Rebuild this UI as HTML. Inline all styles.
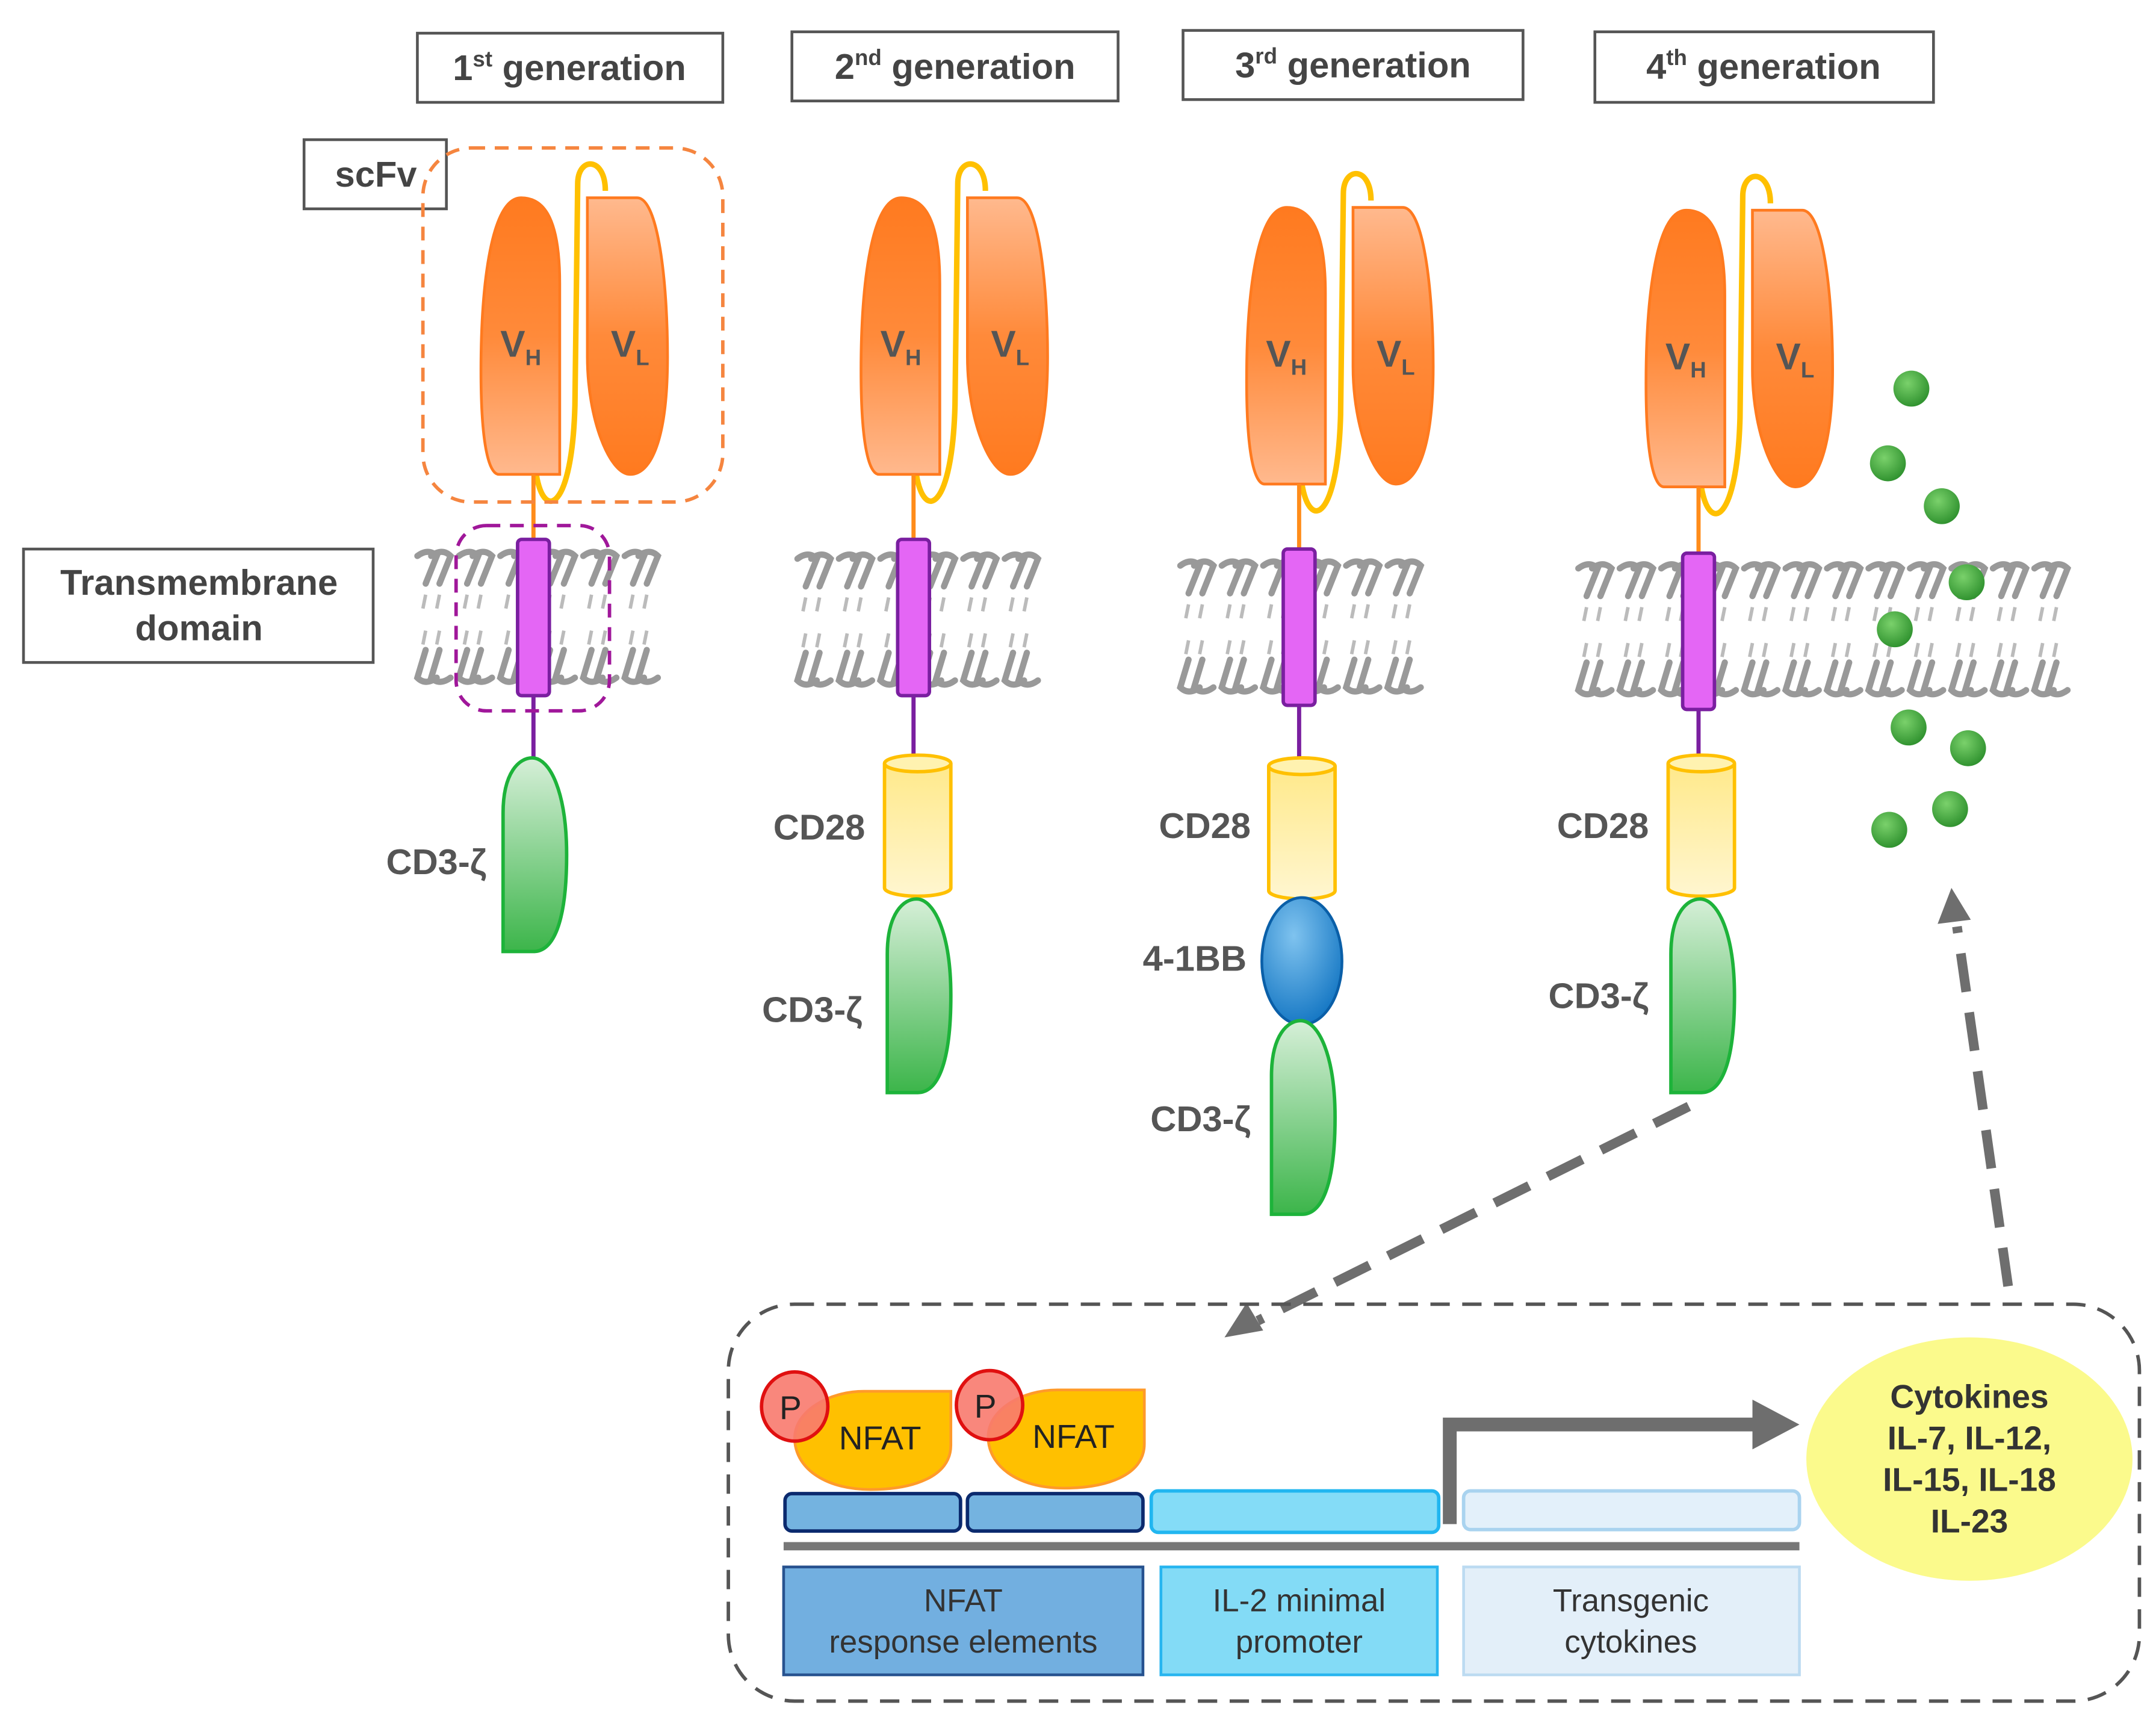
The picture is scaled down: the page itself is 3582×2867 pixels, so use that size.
<!DOCTYPE html>
<html><head><meta charset="utf-8"><style>
html,body{margin:0;padding:0;background:#fff;}
svg{display:block;}
text{font-family:"Liberation Sans",sans-serif;}
</style></head><body>
<svg width="3582" height="2867" viewBox="0 0 1560 1248" preserveAspectRatio="none" xmlns="http://www.w3.org/2000/svg">
<defs>
<linearGradient id="gvh" x1="0" y1="0" x2="0" y2="1"><stop offset="0" stop-color="#ff7a1f"/><stop offset="0.5" stop-color="#ff8a3a"/><stop offset="1" stop-color="#ffb98e"/></linearGradient>
<linearGradient id="gvl" x1="0" y1="0" x2="0" y2="1"><stop offset="0" stop-color="#ffb98e"/><stop offset="0.5" stop-color="#ff8a3a"/><stop offset="1" stop-color="#ff7a1f"/></linearGradient>
<linearGradient id="ggr" x1="0" y1="0" x2="0" y2="1"><stop offset="0" stop-color="#d6efd8"/><stop offset="1" stop-color="#3cb54a"/></linearGradient>
<linearGradient id="gy" x1="0" y1="0" x2="0" y2="1"><stop offset="0" stop-color="#ffe98a"/><stop offset="1" stop-color="#fff6d0"/></linearGradient>
<radialGradient id="gb" cx="0.4" cy="0.3" r="0.8"><stop offset="0" stop-color="#7fc3ef"/><stop offset="1" stop-color="#0a6fbf"/></radialGradient>
<radialGradient id="gdot" cx="0.4" cy="0.35" r="0.7"><stop offset="0" stop-color="#7ad16b"/><stop offset="1" stop-color="#2c8f2c"/></radialGradient>
<g id="lip">
  <path d="M2,4 Q10,-2 16,4 L8,24" fill="none" stroke="#999" stroke-width="4.5" stroke-linecap="round"/>
  <path d="M12,4 Q20,-2 26,4 L18,24" fill="none" stroke="#999" stroke-width="4.5" stroke-linecap="round"/>
  <path d="M8,32 L6,42 M18,32 L16,42 M8,58 L6,68 M18,58 L16,68" stroke="#bbb" stroke-width="2.5"/>
  <path d="M8,72 L2,92 Q8,98 16,92 M18,72 L12,92 Q18,98 26,92" fill="none" stroke="#999" stroke-width="4.5" stroke-linecap="round"/>
</g>
<g id="scfv">
  <path d="M2,200 C8,235 28,225 30,150 L32,-10 C32,-30 52,-30 52,-5" fill="none" stroke="#ffc000" stroke-width="4"/>
  <path d="M19,200 L19,62 C19,10 5,0 -9,0 C-30,0 -38,60 -38,125 C-38,180 -32,200 -25,200 Z" fill="url(#gvh)" stroke="#ff7a1f" stroke-width="2"/>
  <path d="M39,0 L75,0 C90,0 97,60 97,115 C97,175 85,200 70,200 C55,200 39,160 39,115 Z" fill="url(#gvl)" stroke="#ff7a1f" stroke-width="2"/>
  <line x1="0" y1="200" x2="0" y2="248" stroke="#ff8c1a" stroke-width="3"/>
  <text x="-24" y="115" font-size="27" font-weight="bold" fill="#555">V<tspan font-size="16" dy="6">H</tspan></text>
  <text x="56" y="115" font-size="27" font-weight="bold" fill="#555">V<tspan font-size="16" dy="6">L</tspan></text>
</g>
<g id="tm">
  <rect x="-11.5" y="0" width="23" height="113" rx="3" fill="#e466f5" stroke="#7a1fa0" stroke-width="2.5"/>
  <line x1="0" y1="113" x2="0" y2="158" stroke="#7a1fa0" stroke-width="3"/>
</g>
<g id="cd3">
  <path d="M-22,140 L-22,40 C-22,10 -10,0 -1,0 C12,0 24,25 24,70 C24,120 14,140 0,140 Z" fill="url(#ggr)" stroke="#1db33a" stroke-width="2.5"/>
</g>
<g id="cd28">
  <path d="M-24,6 L-24,96 A24,6 0 0 0 24,96 L24,6" fill="url(#gy)" stroke="#ffc000" stroke-width="2.5"/>
  <ellipse cx="0" cy="6" rx="24" ry="6" fill="#fff2b0" stroke="#ffc000" stroke-width="2.5"/>
</g>
</defs>

<g fill="#fff" stroke="#555" stroke-width="2">
<rect x="302" y="24" width="221" height="50"/>
<rect x="573" y="23" width="236" height="50"/>
<rect x="856" y="22" width="246" height="50"/>
<rect x="1154" y="23" width="245" height="51"/>
<rect x="220" y="101" width="103" height="50"/>
<rect x="17" y="397" width="253" height="82"/>
</g>
<g font-size="26" font-weight="bold" fill="#444" text-anchor="middle">
<text x="412" y="58">1<tspan font-size="16" dy="-10">st</tspan><tspan dy="10"> generation</tspan></text>
<text x="691" y="57">2<tspan font-size="16" dy="-10">nd</tspan><tspan dy="10"> generation</tspan></text>
<text x="979" y="56">3<tspan font-size="16" dy="-10">rd</tspan><tspan dy="10"> generation</tspan></text>
<text x="1276" y="57">4<tspan font-size="16" dy="-10">th</tspan><tspan dy="10"> generation</tspan></text>
<text x="272" y="135">scFv</text>
<text x="144" y="430">Transmembrane</text>
<text x="144" y="463">domain</text>
</g>

<g>
<use href="#lip" x="300" y="398"/><use href="#lip" x="330" y="398"/><use href="#lip" x="360" y="398"/><use href="#lip" x="390" y="398"/><use href="#lip" x="420" y="398"/><use href="#lip" x="450" y="398"/>
<use href="#lip" x="575" y="400"/><use href="#lip" x="605" y="400"/><use href="#lip" x="635" y="400"/><use href="#lip" x="665" y="400"/><use href="#lip" x="695" y="400"/><use href="#lip" x="725" y="400"/>
<use href="#lip" x="852" y="405"/><use href="#lip" x="882" y="405"/><use href="#lip" x="912" y="405"/><use href="#lip" x="942" y="405"/><use href="#lip" x="972" y="405"/><use href="#lip" x="1002" y="405"/>
<use href="#lip" x="1140" y="407"/><use href="#lip" x="1170" y="407"/><use href="#lip" x="1200" y="407"/><use href="#lip" x="1230" y="407"/><use href="#lip" x="1260" y="407"/><use href="#lip" x="1290" y="407"/><use href="#lip" x="1320" y="407"/><use href="#lip" x="1350" y="407"/><use href="#lip" x="1380" y="407"/><use href="#lip" x="1410" y="407"/><use href="#lip" x="1440" y="407"/><use href="#lip" x="1470" y="407"/>
</g>

<use href="#scfv" x="386" y="143"/>
<use href="#tm" x="386" y="390"/>
<use href="#cd3" x="386" y="548"/>
<rect x="306" y="107" width="217" height="256" rx="35" fill="none" stroke="#f5853f" stroke-width="2.5" stroke-dasharray="10 7"/>
<rect x="330" y="380" width="111" height="134" rx="22" fill="none" stroke="#a0179a" stroke-width="2.5" stroke-dasharray="10 7"/>

<use href="#scfv" x="661" y="143"/>
<use href="#tm" x="661" y="390"/>
<use href="#cd28" x="664" y="546"/>
<use href="#cd3" x="664" y="650"/>

<use href="#scfv" x="940" y="150"/>
<use href="#tm" x="940" y="397"/>
<use href="#cd28" x="942" y="548"/>
<ellipse cx="942" cy="695" rx="29" ry="46" fill="url(#gb)" stroke="#0a5fa8" stroke-width="2"/>
<use href="#cd3" x="942" y="738"/>

<use href="#scfv" x="1229" y="152"/>
<use href="#tm" x="1229" y="400"/>
<use href="#cd28" x="1231" y="546"/>
<use href="#cd3" x="1231" y="650"/>

<g font-size="26" font-weight="bold" fill="#555" text-anchor="end">
<text x="352" y="632">CD3-ζ</text>
<text x="626" y="607">CD28</text>
<text x="624" y="739">CD3-ζ</text>
<text x="905" y="606">CD28</text>
<text x="902" y="702">4-1BB</text>
<text x="905" y="818">CD3-ζ</text>
<text x="1193" y="606">CD28</text>
<text x="1193" y="729">CD3-ζ</text>
</g>

<g fill="url(#gdot)">
<circle cx="1383" cy="281" r="13"/><circle cx="1366" cy="335" r="13"/><circle cx="1405" cy="366" r="13"/>
<circle cx="1423" cy="421" r="13"/><circle cx="1371" cy="455" r="13"/><circle cx="1381" cy="526" r="13"/>
<circle cx="1424" cy="541" r="13"/><circle cx="1411" cy="585" r="13"/><circle cx="1367" cy="600" r="13"/>
</g>

<g stroke="#6e6e6e" stroke-width="7" stroke-dasharray="28 15" fill="none">
<line x1="1222" y1="800" x2="910" y2="955"/>
<line x1="1453" y1="930" x2="1416" y2="670"/>
</g>
<polygon points="886,967 902,942 914,962" fill="#6e6e6e"/>
<polygon points="1412,642 1402,668 1426,665" fill="#6e6e6e"/>

<rect x="527" y="943" width="1021" height="287" rx="48" fill="none" stroke="#555" stroke-width="2.5" stroke-dasharray="14 9"/>

<g stroke-width="2.5">
<rect x="568" y="1080" width="127" height="27" rx="5" fill="#74b3e0" stroke="#0b2a6e"/>
<rect x="700" y="1080" width="127" height="27" rx="5" fill="#74b3e0" stroke="#0b2a6e"/>
<rect x="833" y="1078" width="208" height="30" rx="5" fill="#84dcf7" stroke="#21b6f0"/>
<rect x="1059" y="1078" width="243" height="28" rx="5" fill="#e3f0fa" stroke="#a9d3ef"/>
</g>
<line x1="567" y1="1118" x2="1302" y2="1118" stroke="#777" stroke-width="6"/>
<rect x="567" y="1133" width="260" height="78" fill="#72afe0" stroke="#27528f" stroke-width="2"/>
<rect x="840" y="1133" width="200" height="78" fill="#83dbf6" stroke="#27b5ef" stroke-width="2"/>
<rect x="1059" y="1133" width="243" height="78" fill="#e3eff9" stroke="#bcdbf1" stroke-width="2"/>
<g font-size="23" fill="#333" text-anchor="middle">
<text x="697" y="1165">NFAT</text><text x="697" y="1195">response elements</text>
<text x="940" y="1165">IL-2 minimal</text><text x="940" y="1195">promoter</text>
<text x="1180" y="1165">Transgenic</text><text x="1180" y="1195">cytokines</text>
</g>

<path d="M688,1006 L688,1045 C688,1068 660,1077 630,1077 C595,1077 575,1060 575,1040 C575,1020 600,1006 625,1006 Z" fill="#ffc000" stroke="#ff9a2a" stroke-width="2"/>
<path d="M828,1005 L828,1044 C828,1067 800,1076 770,1076 C735,1076 715,1059 715,1039 C715,1019 740,1005 765,1005 Z" fill="#ffc000" stroke="#ff9a2a" stroke-width="2"/>
<ellipse cx="575" cy="1017" rx="24" ry="25" fill="#f87a6e" fill-opacity="0.9" stroke="#e01010" stroke-width="2.5"/>
<ellipse cx="716" cy="1016" rx="24" ry="25" fill="#f87a6e" fill-opacity="0.9" stroke="#e01010" stroke-width="2.5"/>
<g font-size="24" fill="#222"><text x="564" y="1026">P</text><text x="705" y="1025">P</text>
<text x="607" y="1048">NFAT</text><text x="747" y="1047">NFAT</text></g>

<path d="M1049,1102 L1049,1030 L1275,1030" fill="none" stroke="#6e6e6e" stroke-width="10"/>
<polygon points="1268,1012 1302,1030 1268,1048" fill="#6e6e6e"/>

<ellipse cx="1425" cy="1055" rx="118" ry="88" fill="#fbfa8c"/>
<g font-size="24" font-weight="bold" fill="#333" text-anchor="middle">
<text x="1425" y="1018">Cytokines</text>
<text x="1425" y="1048">IL-7, IL-12,</text>
<text x="1425" y="1078">IL-15, IL-18</text>
<text x="1425" y="1108">IL-23</text>
</g>
</svg>
</body></html>
